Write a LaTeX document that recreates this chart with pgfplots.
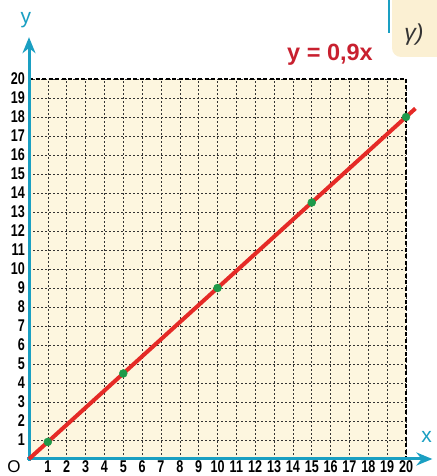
\documentclass[border=0pt]{standalone}
\usepackage{fontspec}
\setmainfont{Liberation Sans}
\newfontfamily\narrow[FakeStretch=0.74]{Liberation Sans}
\usepackage{pgfplots}
\pgfplotsset{compat=1.18}
\usetikzlibrary{arrows.meta}
\definecolor{axisblue}{HTML}{1A9FC2}
\definecolor{linered}{HTML}{E52A26}
\definecolor{titlered}{HTML}{C8202F}
\definecolor{ptgreen}{HTML}{1E9A4A}
\definecolor{paper}{HTML}{FDF6DF}
\definecolor{tab}{HTML}{FBF0D3}
\definecolor{gammagray}{HTML}{333333}
\begin{document}
\begin{tikzpicture}
\path[use as bounding box] (0,0) rectangle (436pt,476pt);
% tab in the corner
\fill[tab, rounded corners=9pt] (392pt,419pt) rectangle (460pt,500pt);
\draw[axisblue, line width=2.5pt] (389pt,476pt) -- (389pt,443pt);
\node[gammagray] at (414pt,441pt) {\fontsize{23}{23}\selectfont\itshape γ)};
\begin{axis}[
    at={(29pt,17pt)}, anchor=south west,
    scale only axis, width=377pt, height=380pt,
    xmin=0, xmax=20, ymin=0, ymax=20,
    axis lines=left, axis line style={draw=none},
    xtick={1,...,20}, ytick={1,...,20},
    major tick length=0pt,
    grid=major,
    major grid style={black!80, line width=0.55pt, dash pattern=on 2.2pt off 1.8pt},
    /pgf/number format/assume math mode=true,
    tick label style={font=\narrow\bfseries\fontsize{17}{17}\selectfont},
    xticklabel style={yshift=1.5pt},
    yticklabel style={xshift=-0.5pt},
    axis background/.style={fill=paper},
    clip=false
]
    % frame and axes
    \draw[black, dash pattern=on 4pt off 2.5pt, line width=1.3pt] (axis cs:0,20) -- (axis cs:20,20) -- (axis cs:20,0);
    \draw[axisblue, line width=3pt, -{Stealth[length=16pt,width=13pt]}] (axis cs:-0.1,0) -- (axis cs:21.4,0);
    \draw[axisblue, line width=3pt, -{Stealth[length=16pt,width=13pt]}] (axis cs:0,-0.1) -- (axis cs:0,22.2);
    \node[axisblue] at (axis cs:21.1,1.15) {\fontsize{21}{21}\selectfont x};
    \node[axisblue] at (axis cs:-0.16,23.1) {\fontsize{21}{21}\selectfont y};
    \node at (axis cs:-0.8,-0.42) {\fontsize{17}{17}\selectfont O};
    \node[titlered] at (axis cs:15.97,21.26) {\fontsize{23.5}{23.5}\selectfont\bfseries y = 0,9x};
    % y = 0.9x
    \addplot[linered, line width=4pt] coordinates {(0,0) (20.5,18.45)};
    \addplot[only marks, mark=*, mark size=4pt, ptgreen] coordinates {
        (1,0.9) (5,4.5) (10,9) (15,13.5) (20,18)
    };
\end{axis}
\end{tikzpicture}
\end{document}
